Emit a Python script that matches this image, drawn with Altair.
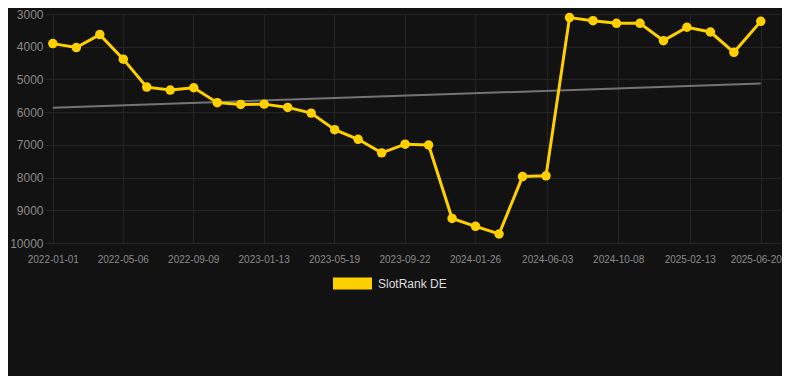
import altair as alt
import pandas as pd

# ---- data ----
dates = [
    "2022-01-01", "2022-02-12", "2022-03-26", "2022-05-07", "2022-06-18",
    "2022-07-30", "2022-09-10", "2022-10-22", "2022-12-03", "2023-01-14",
    "2023-02-25", "2023-04-08", "2023-05-20", "2023-07-01", "2023-08-12",
    "2023-09-23", "2023-11-04", "2023-12-16", "2024-01-27", "2024-03-09",
    "2024-04-20", "2024-06-01", "2024-07-13", "2024-08-24", "2024-10-05",
    "2024-11-16", "2024-12-28", "2025-02-08", "2025-03-22", "2025-05-03",
    "2025-06-20",
]
ranks = [
    3905, 4025, 3630, 4380, 5235,
    5325, 5255, 5710, 5765, 5755,
    5855, 6030, 6535, 6830, 7245,
    6980, 7005, 9250, 9490, 9725,
    7970, 7945, 3110, 3205, 3285,
    3285, 3815, 3405, 3550, 4170,
    3225,
]
series_name = "SlotRank DE"

trend_dates = ["2022-01-01", "2025-06-20"]
trend_values = [5865, 5125]

x_tick_labels = [
    "2022-01-01", "2022-05-06", "2022-09-09", "2023-01-13", "2023-05-19",
    "2023-09-22", "2024-01-26", "2024-06-03", "2024-10-08", "2025-02-13",
    "2025-06-20",
]
y_ticks = [3000, 4000, 5000, 6000, 7000, 8000, 9000, 10000]

# ---- build tables ----
df = pd.DataFrame({"date": dates, "rank": ranks, "series": series_name})
trend = pd.DataFrame({"date": trend_dates, "rank": trend_values})


def dt(s):
    y, m, d = (int(p) for p in s.split("-"))
    return alt.DateTime(year=y, month=m, date=d, utc=True)


YELLOW = "#FFD000"
GRID = "#252525"
LABEL = "#8a8a8a"
FONT = "Liberation Sans"

x_scale = alt.Scale(type="utc", domain=[dt("2021-12-18"), dt("2025-07-28")])
y_scale = alt.Scale(domain=[3000, 10000], reverse=True, nice=False, zero=False)

x_axis = alt.Axis(
    values=[dt(s) for s in x_tick_labels],
    labelExpr="utcFormat(datum.value, '%Y-%m-%d')",
    title=None,
    ticks=False,
    domain=False,
    labelPadding=11,
    labelFontSize=10,
    labelColor=LABEL,
    labelFont=FONT,
    gridColor=GRID,
    labelOverlap=False,
    labelOffset={"condition": {"test": "datum.value > 1745000000000", "value": -5}, "value": 0},
)
y_axis = alt.Axis(
    values=y_ticks,
    format="d",
    title=None,
    ticks=False,
    domain=False,
    labelPadding=2,
    labelFontSize=12,
    labelColor=LABEL,
    labelFont=FONT,
    gridColor=GRID,
)

trend_layer = alt.Chart(trend).mark_line(color="#747474", strokeWidth=2).encode(
    x=alt.X("date:T", scale=x_scale, axis=x_axis),
    y=alt.Y("rank:Q", scale=y_scale, axis=y_axis),
)

line_layer = alt.Chart(df).mark_line(
    strokeWidth=3,
    point=alt.OverlayMarkDef(filled=True, size=90, opacity=1),
).encode(
    x=alt.X("date:T", scale=x_scale, axis=x_axis),
    y=alt.Y("rank:Q", scale=y_scale, axis=y_axis),
    color=alt.Color(
        "series:N",
        scale=alt.Scale(domain=[series_name], range=[YELLOW]),
        legend=alt.Legend(
            title=None,
            orient="none",
            legendX=288,
            legendY=250,
            symbolType="M-1,-0.3077L1,-0.3077L1,0.3077L-1,0.3077Z",
            symbolSize=1521,
            symbolStrokeWidth=0,
            symbolFillColor=YELLOW,
            symbolOpacity=1,
            labelColor="#dddddd",
            labelFontSize=12,
            labelFont=FONT,
            labelOffset=6,
            padding=0,
        ),
    ),
)

chart = (
    alt.layer(trend_layer, line_layer)
    .properties(
        width=737,
        height=229,
        background="#121212",
        padding={"left": 37, "top": 6, "right": 0, "bottom": 133},
        autosize=alt.AutoSizeParams(type="none"),
    )
    .configure_view(stroke=None)
)

chart.save("out.html", embed_options={"renderer": "svg", "actions": False})
